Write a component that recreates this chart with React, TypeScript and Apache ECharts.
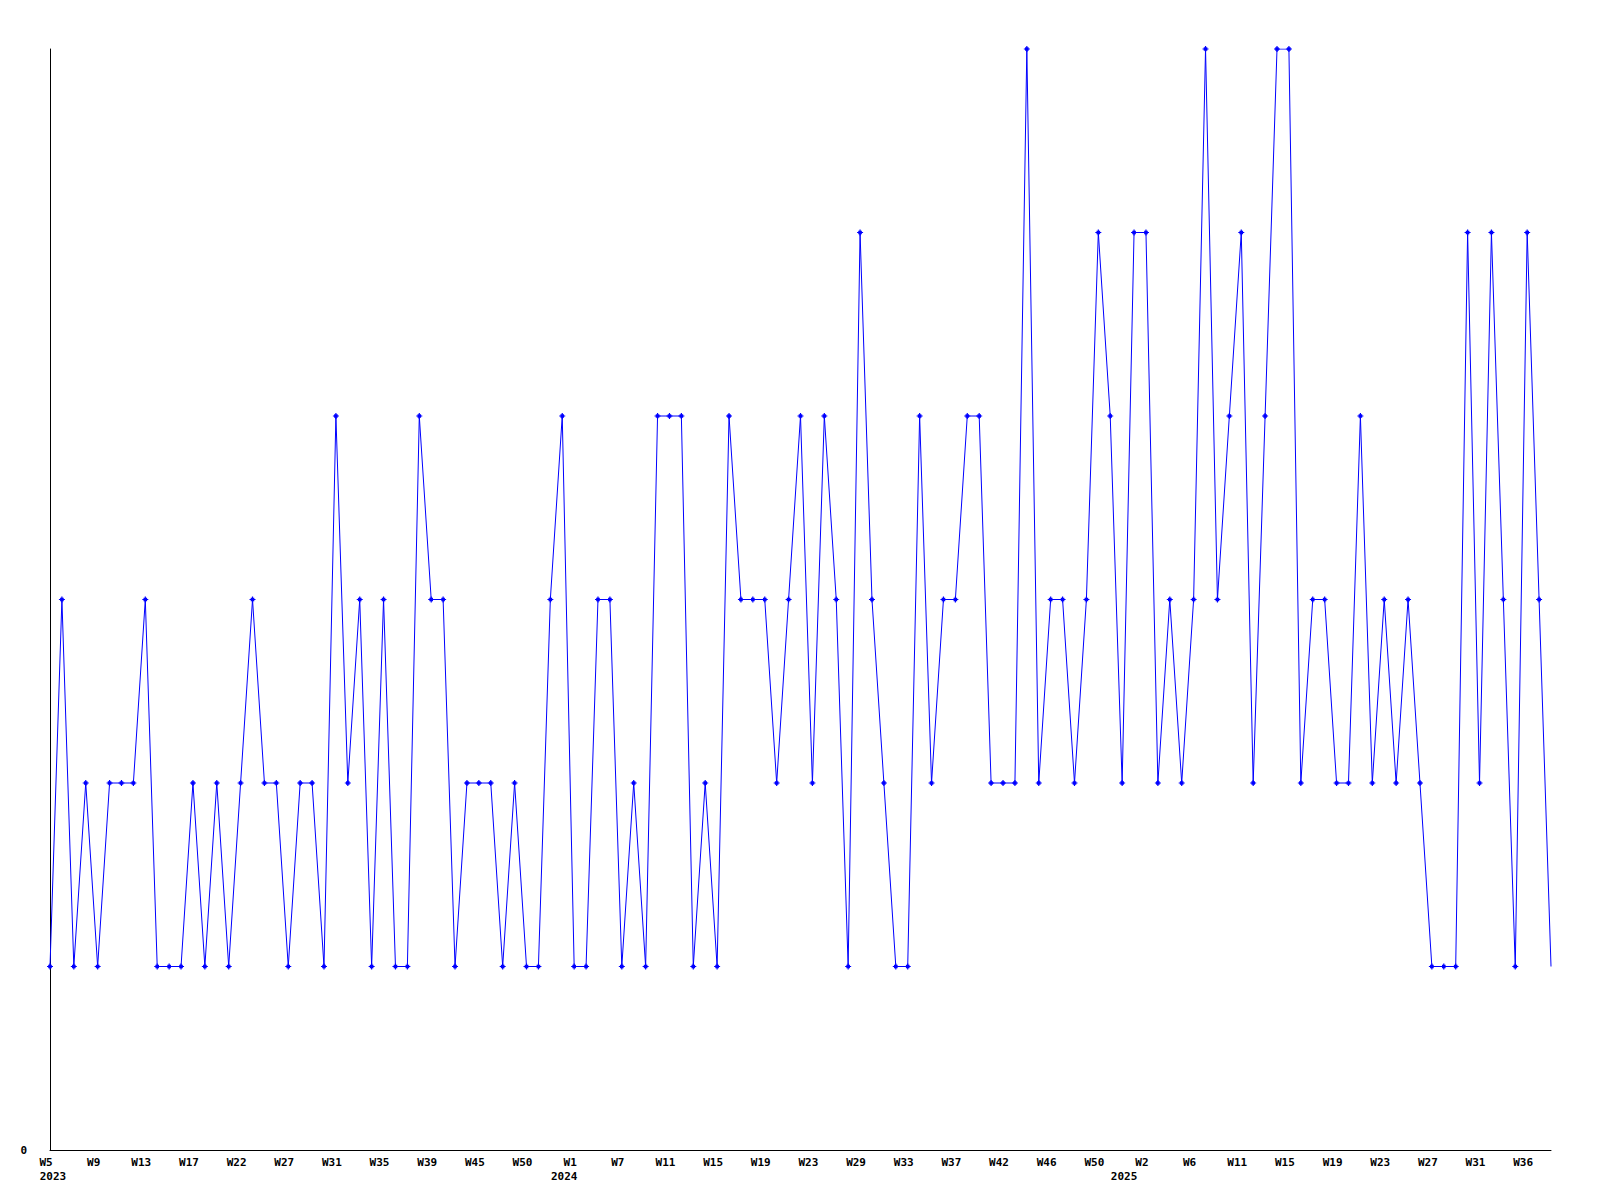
import React, { useEffect, useRef } from "react";
import * as echarts from "echarts";

const weeks2023 = [
  "W5", "W6", "W7", "W8", "W9", "W10", "W11", "W12", "W13", "W14",
  "W15", "W16", "W17", "W18", "W19", "W20", "W22", "W23", "W24", "W25",
  "W27", "W28", "W29", "W30", "W31", "W32", "W33", "W34", "W35", "W36",
  "W37", "W38", "W39", "W40", "W42", "W43", "W45", "W46", "W47", "W48",
  "W50", "W51", "W52", "W53",
];
const weeks2024 = [
  "W1", "W2", "W4", "W5", "W7", "W8", "W9", "W10", "W11", "W12",
  "W13", "W14", "W15", "W16", "W17", "W18", "W19", "W20", "W21", "W22",
  "W23", "W24", "W26", "W27", "W29", "W30", "W31", "W32", "W33", "W34",
  "W35", "W36", "W37", "W38", "W39", "W40", "W42", "W43", "W44", "W45",
  "W46", "W47", "W48", "W49", "W50", "W51", "W52",
];
const weeks2025 = [
  "W1", "W2", "W3", "W4", "W5", "W6", "W7", "W8", "W10", "W11",
  "W12", "W13", "W14", "W15", "W16", "W17", "W18", "W19", "W20", "W21",
  "W22", "W23", "W24", "W25", "W26", "W27", "W28", "W29", "W30", "W31",
  "W32", "W34", "W35", "W36", "W37", "W38",
];
const yearNames = ["2023", "2024", "2025"];

const values = [
  1, 3, 1, 2, 1, 2, 2, 2, 3, 1,
  1, 1, 2, 1, 2, 1, 2, 3, 2, 2,
  1, 2, 2, 1, 4, 2, 3, 1, 3, 1,
  1, 4, 3, 3, 1, 2, 2, 2, 1, 2,
  1, 1, 3, 4, 1, 1, 3, 3, 1, 2,
  1, 4, 4, 4, 1, 2, 1, 4, 3, 3,
  3, 2, 3, 4, 2, 4, 3, 1, 5, 3,
  2, 1, 1, 4, 2, 3, 3, 4, 4, 2,
  2, 2, 6, 2, 3, 3, 2, 3, 5, 4,
  2, 5, 5, 2, 3, 2, 3, 6, 3, 4,
  5, 2, 4, 6, 6, 2, 3, 3, 2, 2,
  4, 2, 3, 2, 3, 2, 1, 1, 1, 5,
  2, 5, 3, 1, 5, 3, 1,
];

const yTickLabels = ["0"];

export default function App() {
  const ref = useRef<HTMLDivElement>(null);

  useEffect(() => {
    if (!ref.current) return;
    const chart = echarts.init(ref.current, null, { renderer: "svg" });

    const weekGroups = [weeks2023, weeks2024, weeks2025];
    const categories: string[] = [];
    const yearOf: string[] = [];
    const yearStart: Record<number, string> = {};
    weekGroups.forEach((g, gi) => {
      yearStart[categories.length] = yearNames[gi];
      g.forEach((w) => {
        categories.push(w);
        yearOf.push(yearNames[gi]);
      });
    });

    const font = "'DejaVu Sans Mono', monospace";
    const lastIdx = values.length - 1;
    const seriesData = values.map((v, i) =>
      i === lastIdx ? { value: v, symbol: "none" } : v
    );

    chart.setOption({
      animation: false,
      backgroundColor: "#ffffff",
      grid: { left: 50, right: 49, top: 49, bottom: 50, containLabel: false },
      xAxis: [
        {
          type: "category",
          data: categories,
          boundaryGap: false,
          position: "bottom",
          axisLine: { show: true, onZero: false, lineStyle: { color: "#000", width: 1 } },
          axisTick: { show: false },
          splitLine: { show: false },
          axisLabel: {
            interval: 3,
            margin: 7,
            color: "#000",
            fontFamily: font,
            fontWeight: "bold",
            fontSize: 11,
            formatter: (v: string) => `{w|${v}}`,
            rich: {
              w: {
                fontFamily: font,
                fontWeight: "bold",
                fontSize: 11,
                color: "#000",
                padding: [0, 8, 0, 0],
              },
            },
          },
        },
        {
          type: "category",
          data: categories,
          boundaryGap: false,
          position: "bottom",
          offset: 14,
          axisLine: { show: false },
          axisTick: { show: false },
          splitLine: { show: false },
          axisLabel: {
            interval: (i: number) => yearStart[i] !== undefined,
            margin: 7,
            color: "#000",
            fontFamily: font,
            fontWeight: "bold",
            fontSize: 11,
            formatter: (_v: string, i: number) =>
              i === 0 ? `{f|${yearOf[i]}}` : `{y|${yearOf[i]}}`,
            rich: {
              f: {
                fontFamily: font,
                fontWeight: "bold",
                fontSize: 11,
                color: "#000",
                padding: [0, 0, 0, 6],
              },
              y: {
                fontFamily: font,
                fontWeight: "bold",
                fontSize: 11,
                color: "#000",
                padding: [0, 20, 0, 0],
              },
            },
          },
        },
      ],
      yAxis: {
        type: "value",
        min: 0,
        max: 6,
        interval: 6,
        axisLine: { show: true, lineStyle: { color: "#000", width: 1 } },
        axisTick: { show: false },
        splitLine: { show: false },
        axisLabel: {
          margin: 23,
          color: "#000",
          fontFamily: font,
          fontWeight: "bold",
          fontSize: 11,
          formatter: (v: number) => (v === 0 ? yTickLabels[0] : ""),
        },
      },
      series: [
        {
          type: "line",
          xAxisIndex: 0,
          data: seriesData,
          symbol: "path://M2,0H3V1H4V2H5V3H4V4H3V5H2V4H1V3H0V2H1V1H2Z",
          symbolSize: 6,
          showAllSymbol: true,
          lineStyle: { color: "#0000ff", width: 1 },
          itemStyle: { color: "#0000ff" },
          emphasis: { disabled: true },
        },
      ],
    });

    return () => chart.dispose();
  }, []);

  return (
    <div
      ref={ref}
      style={{ position: "fixed", left: 0, top: 0, width: 1600, height: 1200, background: "#fff" }}
    />
  );
}
